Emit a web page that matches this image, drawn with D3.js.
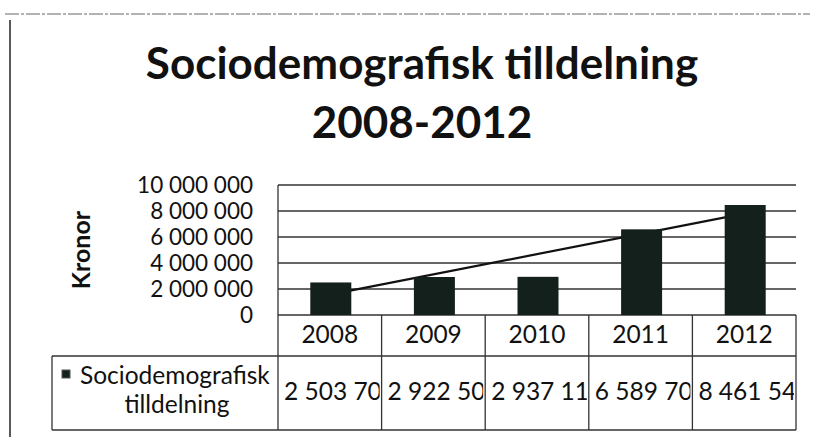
<!DOCTYPE html>
<html>
<head>
<meta charset="utf-8">
<script src="https://cdn.jsdelivr.net/npm/d3@7"></script>
<style>
  body { margin: 0; background: #fff; }
  text { font-family: Lato, "Open Sans", sans-serif; fill: #111; }
</style>
</head>
<body>
<div id="chart"></div>
<script>
// data
const years = ["2008", "2009", "2010", "2011", "2012"];
const values = [2503700, 2922500, 2937110, 6589700, 8461540];
const yTicks = [0, 2000000, 4000000, 6000000, 8000000, 10000000];
const seriesName = ["Sociodemografisk", "tilldelning"];
const titleLines = ["Sociodemografisk tilldelning", "2008-2012"];
const yTitle = "Kronor";

const width = 816, height = 437;
const plotL = 278, plotR = 796, plotT = 185, plotB = 315;
const row1 = 356, row2 = 430, legendLeft = 52;

const svg = d3.select("#chart").append("svg")
    .attr("width", width).attr("height", height);

// scan border
svg.append("line").attr("x1", 5).attr("x2", 810).attr("y1", 14).attr("y2", 14)
    .attr("stroke", "#666").attr("stroke-dasharray", "14 2 3 2");
svg.append("line").attr("x1", 10).attr("x2", 10).attr("y1", 20).attr("y2", 437)
    .attr("stroke", "#222").attr("stroke-width", 1.5);

// title
svg.append("g").selectAll("text")
    .data(titleLines)
    .join("text")
    .attr("x", 422)
    .attr("y", (d, i) => 79 + i * 59)
    .attr("text-anchor", "middle")
    .attr("font-size", 44)
    .attr("font-weight", "bold")
    .text(d => d);

const x = d3.scaleBand().domain(years).range([plotL, plotR]).paddingInner(0).paddingOuter(0);
const y = d3.scaleLinear().domain([0, 10000000]).range([plotB, plotT]);
const fmt = v => d3.format(",")(v).replace(/,/g, " ");

// gridlines
svg.append("g")
    .selectAll("line")
    .data(yTicks)
    .join("line")
    .attr("x1", plotL).attr("x2", plotR)
    .attr("y1", d => y(d)).attr("y2", d => y(d))
    .attr("stroke", "#333").attr("stroke-width", 1.3);

// y labels
svg.append("g")
    .selectAll("text")
    .data(yTicks)
    .join("text")
    .attr("x", 253)
    .attr("y", d => y(d))
    .attr("dy", "0.36em")
    .attr("text-anchor", "end")
    .attr("font-size", 22.5)
    .text(d => fmt(d));

svg.append("text")
    .attr("transform", "translate(90,250) rotate(-90)")
    .attr("text-anchor", "middle")
    .attr("font-size", 25)
    .attr("font-weight", "bold")
    .text(yTitle);

// linear trend (drawn under the bars)
const xi = values.map((d, i) => i);
const mx = d3.mean(xi), my = d3.mean(values);
const slope = d3.sum(xi, i => (i - mx) * (values[i] - my)) / d3.sum(xi, i => (i - mx) ** 2);
const icpt = my - slope * mx;
svg.append("line")
    .attr("x1", x(years[0]) + x.bandwidth() / 2)
    .attr("y1", y(icpt))
    .attr("x2", x(years[4]) + x.bandwidth() / 2)
    .attr("y2", y(icpt + slope * 4))
    .attr("stroke", "#111").attr("stroke-width", 2.2);

// bars
const barW = 41;
svg.append("g")
    .selectAll("rect")
    .data(values)
    .join("rect")
    .attr("x", (d, i) => x(years[i]) + x.bandwidth() / 2 - barW / 2 + 1)
    .attr("y", d => y(d))
    .attr("width", barW)
    .attr("height", d => y(0) - y(d))
    .attr("fill", "#14201b");

// table
const tbl = svg.append("g").attr("stroke", "#333").attr("stroke-width", 1.3).attr("fill", "none");
tbl.append("line").attr("x1", plotL).attr("x2", plotL).attr("y1", plotT).attr("y2", row2);
tbl.append("line").attr("x1", plotR).attr("x2", plotR).attr("y1", plotB).attr("y2", row2);
tbl.append("line").attr("x1", legendLeft).attr("x2", plotR).attr("y1", row1).attr("y2", row1);
tbl.append("line").attr("x1", legendLeft).attr("x2", plotR).attr("y1", row2).attr("y2", row2);
tbl.append("line").attr("x1", legendLeft).attr("x2", legendLeft).attr("y1", row1).attr("y2", row2);
tbl.selectAll("line.col")
    .data(years.slice(1))
    .join("line")
    .attr("x1", d => x(d)).attr("x2", d => x(d))
    .attr("y1", plotB).attr("y2", row2);

svg.append("g")
    .selectAll("text")
    .data(years)
    .join("text")
    .attr("x", d => x(d) + x.bandwidth() / 2)
    .attr("y", 343)
    .attr("text-anchor", "middle")
    .attr("font-size", 24.5)
    .text(d => d);

// value cells, clipped to cell width like the original
const defs = svg.append("defs");
years.forEach((yr, i) => {
  defs.append("clipPath").attr("id", "clip" + i)
    .append("rect")
    .attr("x", x(yr) + 1).attr("y", row1)
    .attr("width", x.bandwidth() - 3).attr("height", row2 - row1);
});
svg.append("g")
    .selectAll("text")
    .data(values)
    .join("text")
    .attr("clip-path", (d, i) => `url(#clip${i})`)
    .attr("x", (d, i) => x(years[i]) + 6)
    .attr("y", 400)
    .attr("font-size", 24.5)
    .text(d => fmt(d));

// legend cell
svg.append("rect").attr("x", 62).attr("y", 370).attr("width", 8).attr("height", 8)
    .attr("fill", "#14201b").attr("stroke", "#555");
svg.append("text").attr("x", 80).attr("y", 384).attr("font-size", 24.5).text(seriesName[0]);
svg.append("text").attr("x", 177).attr("y", 413).attr("text-anchor", "middle")
    .attr("font-size", 24.5).text(seriesName[1]);
</script>
</body>
</html>
